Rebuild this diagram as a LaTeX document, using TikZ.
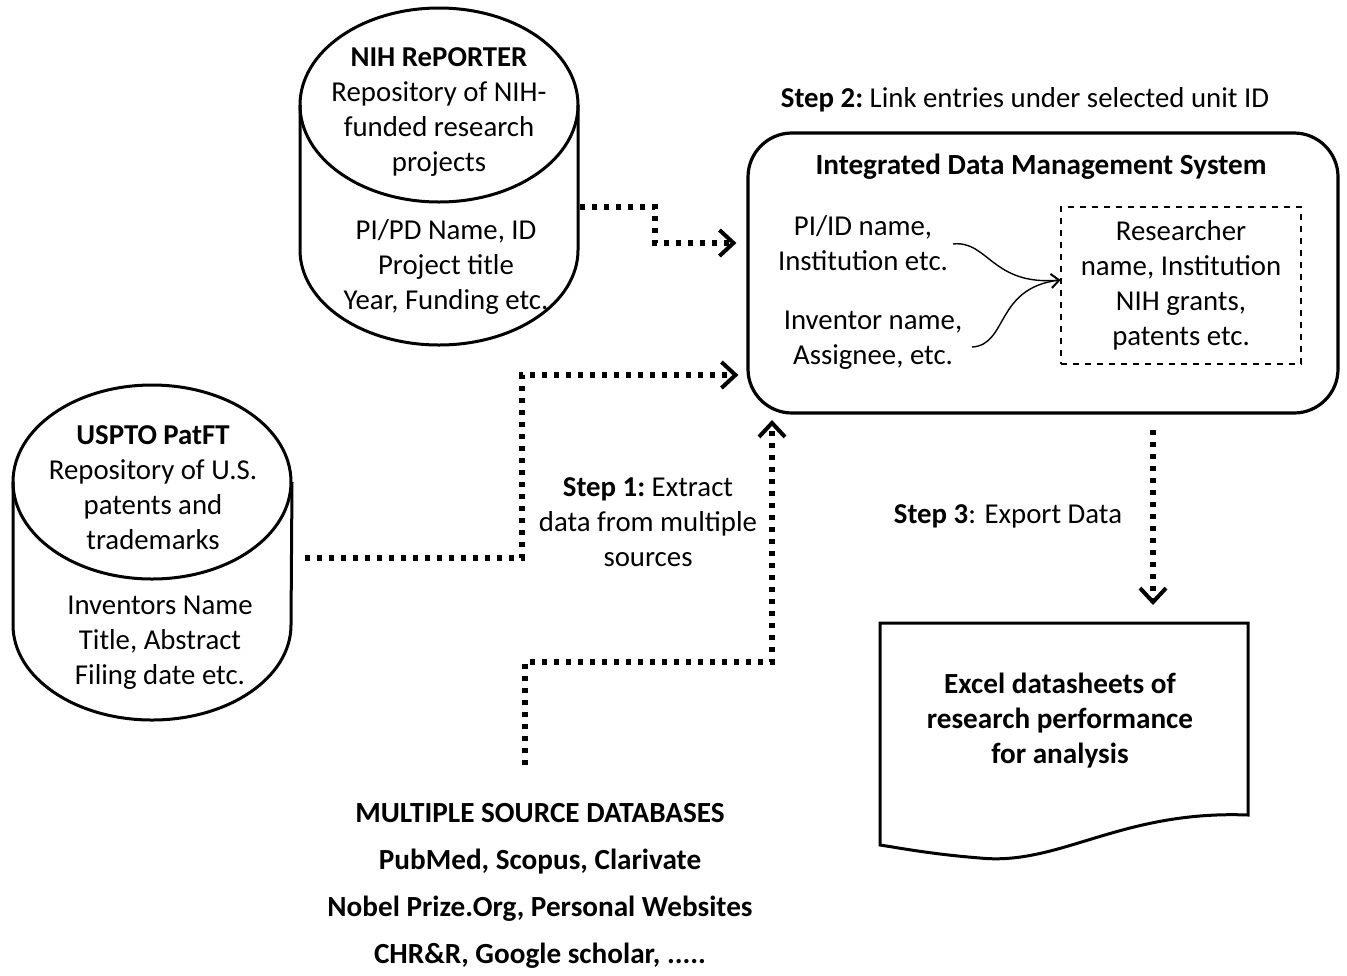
\documentclass[tikz,border=0pt]{standalone}
\usepackage{fontspec}
\setmainfont{Carlito}
\usetikzlibrary{arrows.meta,positioning}
\tikzset{
	dbline/.style={line width=1.5pt},
	dotarr/.style={line width=2.6pt,dash pattern=on 2.6pt off 3.4pt,
		-{Straight Barb[length=7pt,width=13pt,line width=2pt]}},
	thinarr/.style={line width=0.7pt,-{Straight Barb[length=4pt,width=7pt,line width=0.8pt]}},
	txt/.style={align=center,inner sep=0pt,font=\fontsize{14.4}{17.5}\selectfont},
	boldtxt/.style={txt,font=\fontsize{14.6}{17.5}\selectfont\bfseries},
	srctxt/.style={txt,font=\fontsize{14.6}{23.5}\selectfont\bfseries}
}
\def\stepf#1{\textbf{#1}}

\begin{document}
\begin{tikzpicture}[x=0.5pt,y=-0.5pt]
	\useasboundingbox (0,0) rectangle (1347,975);
	% NIH RePORTER drum
	\draw[dbline] (439,105) ellipse [x radius=69.5pt,y radius=48.5pt];
	\draw[dbline] (300,105) -- (300,250) arc [start angle=180,end angle=360,x radius=69.5pt,y radius=47.5pt] -- (578,105);
	\node[txt] (nihhead) at (439,112) {\textbf{NIH RePORTER}\\Repository of NIH-\\funded research\\projects};
	\node[txt] (nihbody) at (446,267) {PI/PD Name, ID\\Project title\\Year, Funding etc.};
	\coordinate (nihout) at (580,207);
	% USPTO PatFT drum
	\draw[dbline] (152,482) ellipse [x radius=69.5pt,y radius=48.5pt];
	\draw[dbline] (13,482) -- (13,625) arc [start angle=180,end angle=360,x radius=69.5pt,y radius=47.5pt] -- (292,482);
	\node[txt] (ushead) at (153,488) {\textbf{USPTO PatFT}\\Repository of U.S.\\patents and\\trademarks};
	\node[txt] (usbody) at (160,643) {Inventors Name\\Title, Abstract\\Filing date etc.};
	\coordinate (usout) at (305,558);
	% integrated system
	\node[txt] (step2) at (1025,100) {\stepf{Step 2:}~Link entries under selected unit ID};
	\node[draw,line width=1.6pt,rounded corners=22pt,minimum width=295pt,minimum height=140pt] (idms) at (1043,273) {};
	\node[boldtxt] (idmstitle) at (1041,167) {Integrated Data Management System};
	\node[txt] (piid) at (863,243) {PI/ID name,\\Institution etc.};
	\node[txt] (inv) at (873,340) {Inventor name,\\Assignee, etc.};
	\node[txt,draw,dashed,line width=0.6pt,minimum width=120pt,minimum height=78.5pt] (merged) at (1181,285.5) {Researcher\\name, Institution\\NIH grants,\\patents etc.};
	\draw[thinarr] (953,244) .. controls (988,240) and (992,286) .. (merged.west |- 0,280);
	\draw[thinarr] (972,347) .. controls (1008,345) and (995,288) .. (merged.west |- 0,280);
	% step 1
	\node[txt] (step1) at (648,522) {\stepf{Step 1:}~Extract\\data from multiple\\sources};
	\coordinate (srcout) at (525,765);
	\draw[dotarr] (nihout) -| (655,243) -- ([xshift=-5pt]idms.west |- 0,243);
	\draw[dotarr] (usout) -| (522,375) -- ([xshift=-4pt]idms.west |- 0,375);
	\draw[dotarr] (srcout) |- (772,662) -- (772,420);
	% step 3 and export
	\node[txt] (step3) at (1008,516) {\stepf{Step 3}: Export Data};
	\coordinate (expout) at (1153,430);
	\coordinate (expin) at (1153,605);
	\draw[dotarr] (expout) -- (expin);
	\draw[dbline] (880,623) -- (1248,623) -- (1248,815)
		.. controls (1120,810) and (1060,866) .. (980,858)
		.. controls (930,854) and (900,848) .. (880,845) -- cycle;
	\node[boldtxt] (excel) at (1060,721) {Excel datasheets of\\research performance\\for analysis};
	% source databases
	\node[srctxt] (sources) at (540,886) {MULTIPLE SOURCE DATABASES\\PubMed, Scopus, Clarivate\\Nobel Prize.Org, Personal Websites\\CHR\&R, Google scholar, .....};
\end{tikzpicture}
\end{document}
